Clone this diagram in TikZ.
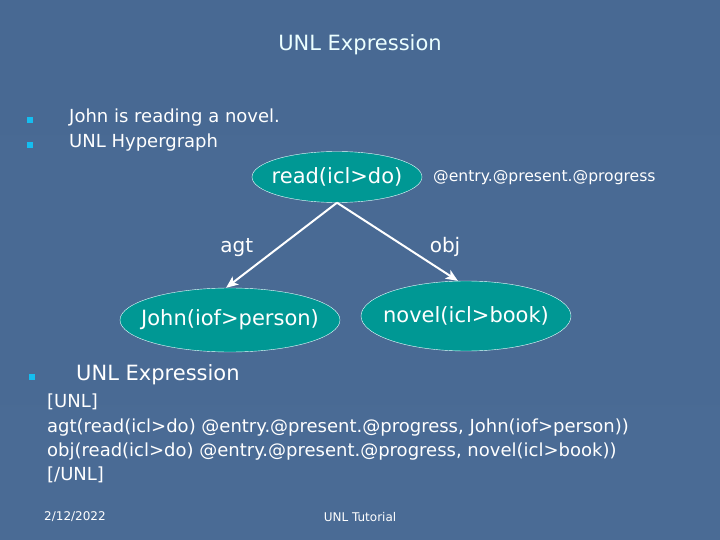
\documentclass[tikz,border=0pt]{standalone}
\usepackage{fontspec}
\setmainfont{DejaVu Sans}
\usepackage{xcolor}
\usetikzlibrary{shapes.geometric,arrows,arrows.meta,positioning}

\definecolor{slideblue}{RGB}{86,119,162}
\definecolor{slidetop}{RGB}{72,105,147}
\definecolor{slidebot}{RGB}{74,107,149}
\definecolor{nodeteal}{RGB}{0,152,148}
\definecolor{bulletcyan}{RGB}{20,190,240}
\definecolor{titlewhite}{RGB}{235,255,255}

\tikzset{
  concept/.style={ellipse, draw=titlewhite, thin, fill=nodeteal, inner sep=0pt,
    label={[text=white, font=\fontsize{21}{24}\selectfont]center:#1}},
  rel/.style={-{Stealth[length=12pt, width=10pt, inset=3pt]}, white, line width=2pt},
  bullet/.style={fill=bulletcyan, minimum size=6.5pt, inner sep=0pt},
  bodytext/.style={anchor=west, text=white, inner sep=0pt, font=\fontsize{18}{22}\selectfont}
}

\begin{document}
\begin{tikzpicture}[x=1pt, y=-1pt]

% background
\shade[top color=slidetop, middle color=slideblue, bottom color=slidebot] (0,0) rectangle (720,540);
\useasboundingbox (0,0) rectangle (720,540);

% title
\node[text=titlewhite, font=\fontsize{21}{24}\selectfont] (title) at (360,45) {UNL Expression};

% bullets
\node[bullet] (b1) at (30,120) {};
\node[bullet] (b2) at (30,145) {};
\node[bodytext] (sent) at (69,118) {John is reading a novel.};
\node[bodytext] (hyper) at (69,143) {UNL Hypergraph};

% graph
\node[concept={read(icl>do)}, minimum width=170pt, minimum height=51pt] (read) at (337,177) {};
\node[concept={John(iof>person)}, minimum width=220pt, minimum height=64pt] (john) at (230,320) {};
\node[concept={novel(icl>book)}, minimum width=210pt, minimum height=70pt] (novel) at (466,316) {};
\node[anchor=west, text=white, inner sep=0pt, font=\fontsize{15.6}{18}\selectfont] (attr) at (433,178) {@entry.@present.@progress};

\draw[rel] (read.south) -- node[midway, left=24pt, yshift=-2pt, text=white, font=\fontsize{20}{24}\selectfont]{agt} (john.97);
\draw[rel] (read.south) -- node[midway, right=28pt, yshift=-5pt, text=white, font=\fontsize{20}{24}\selectfont]{obj} (novel.103);

% expression
\node[bullet] (b3) at (32,377) {};
\node[bodytext, font=\fontsize{21}{24}\selectfont] (expr) at (76,375) {UNL Expression};
\node[anchor=north west, align=left, text=white, inner sep=0pt, font=\fontsize{18}{24.3}\selectfont] (code) at (47,394)
  {[UNL]\\
   agt(read(icl>do) @entry.@present.@progress, John(iof>person))\\
   obj(read(icl>do) @entry.@present.@progress, novel(icl>book))\\
   {[/UNL]}};

% footer
\node[anchor=west, text=white, inner sep=0pt, font=\fontsize{12}{14}\selectfont] (date) at (44,517) {2/12/2022};
\node[text=white, inner sep=0pt, font=\fontsize{12}{14}\selectfont] (foot) at (360,517) {UNL Tutorial};

\end{tikzpicture}
\end{document}
